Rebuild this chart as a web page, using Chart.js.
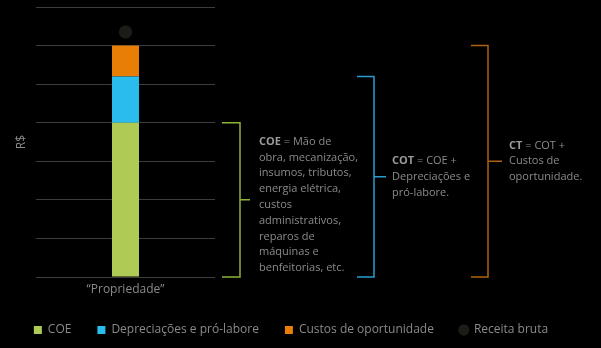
<!DOCTYPE html>
<html>
<head>
<meta charset="utf-8">
<script src="https://cdn.jsdelivr.net/npm/chart.js@4/dist/chart.umd.min.js"></script>
<style>
  html, body { margin: 0; padding: 0; background: #000; }
  #wrap { width: 601px; height: 348px; }
</style>
</head>
<body>
<div id="wrap"><canvas id="grafico" width="601" height="348"></canvas></div>
<script>
// Dados
const categorias = ["“Propriedade”"];
const coe = [4];
const depreciacoes = [1.2];
const custosOport = [0.8];
const receitaBruta = [6.35];

// Chaves (início, fim em R$) e textos
const chaveCOE = [0, 4];
const chaveCOT = [0, 5.2];
const chaveCT = [0, 6];
const textoCOE = ["COE", " = Mão de", "obra, mecanização,", "insumos, tributos,", "energia elétrica,", "custos", "administrativos,", "reparos de", "máquinas e", "benfeitorias, etc."];
const textoCOT = ["COT", " = COE +", "Depreciações e", "pró-labore."];
const textoCT = ["CT", " = COT +", "Custos de", "oportunidade."];

const fonte = "'Open Sans', sans-serif";
Chart.defaults.font.family = fonte;
Chart.defaults.color = "#8a8a8a";

// === PLUGIN DAS CHAVES ===
const chaves = {
    id: "chaves",
    afterDraw(chart) {
        const y = chart.scales.y;
        const ctx = chart.ctx;
        const itens = [
            { r: chaveCOE, x0: 222, x1: 240, tick: 250, cor: "#8fb13a", txt: textoCOE, tx: 259, dy: 5 },
            { r: chaveCOT, x0: 357, x1: 374, tick: 386, cor: "#2a9cd0", txt: textoCOT, tx: 392, dy: 0 },
            { r: chaveCT, x0: 471, x1: 488, tick: 502, cor: "#b0610f", txt: textoCT, tx: 509, dy: 0 }
        ];
        ctx.save();
        itens.forEach(it => {
            const yb = y.getPixelForValue(it.r[0]);
            const yt = y.getPixelForValue(it.r[1]);
            const ym = (yb + yt) / 2;
            ctx.strokeStyle = it.cor;
            ctx.lineWidth = 1.5;
            ctx.beginPath();
            ctx.moveTo(it.x0, yt);
            ctx.lineTo(it.x1, yt);
            ctx.lineTo(it.x1, yb);
            ctx.lineTo(it.x0, yb);
            ctx.moveTo(it.x1, ym);
            ctx.lineTo(it.tick, ym);
            ctx.stroke();

            // texto
            const lh = 15.8;
            const linhas = it.txt.length - 1;
            let ty = ym + it.dy - (linhas - 1) * lh / 2;
            ctx.textBaseline = "middle";
            ctx.textAlign = "left";
            ctx.font = "bold 11px " + fonte;
            ctx.fillStyle = "#9a9a9a";
            ctx.fillText(it.txt[0], it.tx, ty);
            const w = ctx.measureText(it.txt[0]).width;
            ctx.font = "11px " + fonte;
            ctx.fillStyle = "#8a8a8a";
            ctx.fillText(it.txt[1], it.tx + w, ty);
            for (let i = 2; i < it.txt.length; i++) {
                ty += lh;
                ctx.fillText(it.txt[i], it.tx, ty);
            }
        });
        ctx.restore();
    }
};

const ctx = document.getElementById("grafico").getContext("2d");

new Chart(ctx, {
    type: "bar",
    data: {
        labels: categorias,
        datasets: [
            { label: "COE", data: coe, backgroundColor: "#afca55", pointStyle: "rect", stack: "custo" },
            { label: "Depreciações e pró-labore", data: depreciacoes, backgroundColor: "#2bbcee", pointStyle: "rect", stack: "custo" },
            { label: "Custos de oportunidade", data: custosOport, backgroundColor: "#e97e06", pointStyle: "rect", stack: "custo" },
            {
                type: "line", label: "Receita bruta", data: receitaBruta, stack: "receita",
                showLine: false, pointRadius: 6.7, pointHoverRadius: 6.7,
                backgroundColor: "#1b1b18", borderColor: "#1b1b18", borderWidth: 0, pointStyle: "circle"
            }
        ]
    },
    options: {
        responsive: false,
        animation: false,
        events: [],
        layout: { padding: { top: 7, right: 19, left: 0, bottom: 2 } },
        datasets: { bar: { barPercentage: 0.151, categoryPercentage: 1 } },
        scales: {
            x: {
                stacked: true,
                afterFit: (axis) => { axis.height = 21; },
                grid: { display: false, drawTicks: false },
                border: { display: false },
                ticks: { color: "#8a8a8a", font: { size: 12 }, padding: 5 }
            },
            y: {
                stacked: true,
                min: 0, max: 7,
                afterFit: (axis) => { axis.width = 36; },
                grid: { color: "#3d3d3d", lineWidth: 1, drawTicks: false },
                border: { display: false },
                ticks: { display: false, stepSize: 1 },
                title: { display: true, text: "R$", color: "#8a8a8a", font: { size: 12 }, padding: { top: 14 } }
            },
            folga: {
                position: "right",
                afterFit: (axis) => { axis.width = 601 - 19 - 215; },
                grid: { display: false },
                border: { display: false },
                ticks: { display: false }
            }
        },
        plugins: {
            tooltip: { enabled: false },
            legend: {
                position: "bottom",
                labels: {
                    usePointStyle: true,
                    boxWidth: 8, boxHeight: 8,
                    padding: 26,
                    color: "#8a8a8a",
                    font: { size: 12 }
                }
            }
        }
    },
    plugins: [chaves]
});
</script>
</body>
</html>
